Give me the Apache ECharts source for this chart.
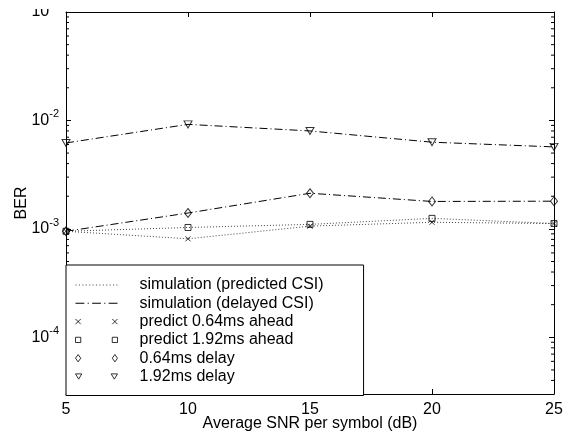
<!DOCTYPE html>
<html>
<head>
<meta charset="utf-8">
<script src="https://cdn.jsdelivr.net/npm/echarts@6/dist/echarts.min.js"></script>
<style>html,body{margin:0;padding:0;background:#fff;}#c{width:572px;height:437px;}</style>
</head>
<body>
<div id="c"></div>
<script>
var snr = [5, 10, 15, 20, 25];
var predict064 = [9.5e-4, 8.1e-4, 1.06e-3, 1.15e-3, 1.12e-3];
var predict192 = [9.5e-4, 1.03e-3, 1.10e-3, 1.25e-3, 1.12e-3];
var delay064 = [9.5e-4, 1.40e-3, 2.13e-3, 1.79e-3, 1.80e-3];
var delay192 = [6.2e-3, 9.2e-3, 8.0e-3, 6.3e-3, 5.7e-3];
var xTicks = [5, 10, 15, 20, 25];
var yMin = 3e-5, yMax = 1e-1;
var minorTickValues = [4e-5,5e-5,6e-5,7e-5,8e-5,9e-5,
  2e-4,3e-4,4e-4,5e-4,6e-4,7e-4,8e-4,9e-4,
  2e-3,3e-3,4e-3,5e-3,6e-3,7e-3,8e-3,9e-3,
  2e-2,3e-2,4e-2,5e-2,6e-2,7e-2,8e-2,9e-2];
var seriesNames = ['simulation (predicted CSI)', 'simulation (delayed CSI)',
  'predict 0.64ms ahead', 'predict 1.92ms ahead', '0.64ms delay', '1.92ms delay'];

var FONT = '"Liberation Sans", Arial, Helvetica, sans-serif';
function pairs(ys){ return snr.map(function(x,i){ return [x, ys[i]]; }); }

var markerStyle = {color: 'rgba(0,0,0,0)', borderColor: '#000', borderWidth: 1};
var dotted = {color: '#444', width: 1, type: [1, 2]};
var dashdot = {color: '#000', width: 1, type: [8, 3, 1, 3]};

var symX = 'path://M0,0L10,10M10,0L0,10';
var symTri = 'path://M0,0L10,0L5,8.66Z';
var iconX = 'path://M0,0L5,5M5,0L0,5M35,0L40,5M40,0L35,5';
var iconSq = 'path://M0,0H5V5H0Z M35,0H40V5H35Z';
var iconDia = 'path://M2.5,0L5,3.5L2.5,7L0,3.5Z M37.5,0L40,3.5L37.5,7L35,3.5Z';
var iconTri = 'path://M0,0H6L3,5Z M34,0H40L37,5Z';
function dashPath(pattern, total){
  var d = '', x = 0, i = 0;
  while (x < total) {
    var len = pattern[i % pattern.length];
    if (i % 2 === 0) { var e = Math.min(x + len, total); d += 'M' + x + ',0H' + e + 'V1H' + x + 'Z'; }
    x += len; i++;
  }
  return 'path://' + d;
}
var iconDotted = dashPath([1, 2], 38);
var iconDashDot = dashPath([8, 3, 1, 3], 38);
var markerLegendStyle = {color: 'rgba(0,0,0,0)', borderColor: '#000', borderWidth: 1};

var chart = echarts.init(document.getElementById('c'), null, {renderer: 'canvas'});
var option = {
  backgroundColor: '#fff',
  animation: false,
  textStyle: {fontFamily: FONT},
  grid: {left: 66, right: 18, top: 12, bottom: 41, show: false},
  xAxis: [{
    type: 'value', min: 5, max: 25, interval: 5, position: 'bottom',
    axisLine: {show: true, onZero: false, lineStyle: {color: '#000', width: 1}},
    axisTick: {show: true, inside: true, length: 5, lineStyle: {color: '#000'}},
    axisLabel: {color: '#000', fontSize: 16, margin: 8, fontFamily: FONT},
    splitLine: {show: false},
    name: 'Average SNR per symbol (dB)', nameLocation: 'middle', nameGap: 22,
    nameMoveOverlap: false,
    nameTextStyle: {color: '#000', fontSize: 16, fontFamily: FONT}
  }, {
    type: 'value', min: 5, max: 25, interval: 5, position: 'top',
    axisLine: {show: true, onZero: false, lineStyle: {color: '#000', width: 1}},
    axisTick: {show: true, inside: true, length: 5, lineStyle: {color: '#000'}},
    axisLabel: {show: false}, splitLine: {show: false}
  }],
  yAxis: [{
    type: 'log', logBase: 10, min: yMin, max: yMax, position: 'left',
    axisLine: {show: true, onZero: false, lineStyle: {color: '#000', width: 1}},
    axisTick: {show: true, inside: true, length: 5, lineStyle: {color: '#000'}},
    axisLabel: {
      color: '#000', margin: 7, fontFamily: FONT,
      showMinLabel: false,
      formatter: function(v){
        var e = Math.log10(v), r = Math.round(e);
        if (Math.abs(e - r) > 1e-6) return '';
        return '{b|10}{s|' + r + '}';
      },
      rich: {
        b: {fontSize: 16, color: '#000', fontFamily: FONT},
        s: {fontSize: 11, color: '#000', fontFamily: FONT, padding: [0, 0, 12, 0]}
      }
    },
    splitLine: {show: false},
    name: 'BER', nameLocation: 'middle', nameGap: 36,
    nameMoveOverlap: false,
    nameTextStyle: {color: '#000', fontSize: 16, fontFamily: FONT}
  }, {
    type: 'log', logBase: 10, min: yMin, max: yMax, position: 'right',
    axisLine: {show: true, onZero: false, lineStyle: {color: '#000', width: 1}},
    axisTick: {show: true, inside: true, length: 5, lineStyle: {color: '#000'}},
    axisLabel: {show: false}, splitLine: {show: false}
  }],
  legend: {
    orient: 'vertical', left: 66, top: 265,
    padding: [12, 40, 11, 9],
    itemWidth: 42, itemHeight: 10, itemGap: 2.3,
    backgroundColor: '#fff', borderColor: '#000', borderWidth: 1,
    selectedMode: false,
    textStyle: {color: '#000', fontSize: 16, lineHeight: 16, fontFamily: FONT, padding: [0, 0, 0, 17]},
    data: [
      {name: seriesNames[0], icon: iconDotted, itemStyle: {color: '#555', borderWidth: 0}},
      {name: seriesNames[1], icon: iconDashDot, itemStyle: {color: '#000', borderWidth: 0}},
      {name: seriesNames[2], icon: iconX, itemStyle: markerLegendStyle},
      {name: seriesNames[3], icon: iconSq, itemStyle: markerLegendStyle},
      {name: seriesNames[4], icon: iconDia, itemStyle: markerLegendStyle},
      {name: seriesNames[5], icon: iconTri, itemStyle: markerLegendStyle}
    ]
  },
  graphic: [{
    type: 'rect', left: 0, top: 0, z: 100, silent: true,
    shape: {width: 62, height: 9}, style: {fill: '#fff'}
  }],
  series: [
    {name: seriesNames[0], type: 'line', data: pairs(predict064), symbol: 'none', lineStyle: dotted, itemStyle: {color: '#444'}, z: 2},
    {name: seriesNames[0], type: 'line', data: pairs(predict192), symbol: 'none', lineStyle: dotted, itemStyle: {color: '#444'}, z: 2},
    {name: seriesNames[1], type: 'line', data: pairs(delay064), symbol: 'none', lineStyle: dashdot, itemStyle: {color: '#000'}, z: 2},
    {name: seriesNames[1], type: 'line', data: pairs(delay192), symbol: 'none', lineStyle: dashdot, itemStyle: {color: '#000'}, z: 2},
    {name: seriesNames[2], type: 'scatter', data: pairs(predict064), symbol: symX, symbolSize: 5, itemStyle: markerStyle, z: 3},
    {name: seriesNames[3], type: 'scatter', data: pairs(predict192), symbol: 'rect', symbolSize: 6, itemStyle: markerStyle, z: 3},
    {name: seriesNames[4], type: 'scatter', data: pairs(delay064), symbol: 'diamond', symbolSize: [7, 9], itemStyle: markerStyle, z: 3},
    {name: seriesNames[5], type: 'scatter', data: pairs(delay192), symbol: symTri, symbolSize: [8, 7], itemStyle: markerStyle, z: 3},
    {
      name: 'minorTicks', type: 'custom', silent: true, clip: false, z: 1,
      data: minorTickValues.map(function(v){ return [v]; }),
      encode: {y: 0},
      renderItem: function(params, api){
        var v = api.value(0);
        var pl = api.coord([xTicks[0], v]);
        var pr = api.coord([xTicks[xTicks.length - 1], v]);
        var st = {stroke: '#000', lineWidth: 1};
        return {type: 'group', children: [
          {type: 'line', shape: {x1: pl[0], y1: pl[1], x2: pl[0] + 3, y2: pl[1]}, style: st},
          {type: 'line', shape: {x1: pr[0] - 3, y1: pr[1], x2: pr[0], y2: pr[1]}, style: st}
        ]};
      }
    }
  ]
};
chart.setOption(option);
</script>
</body>
</html>
